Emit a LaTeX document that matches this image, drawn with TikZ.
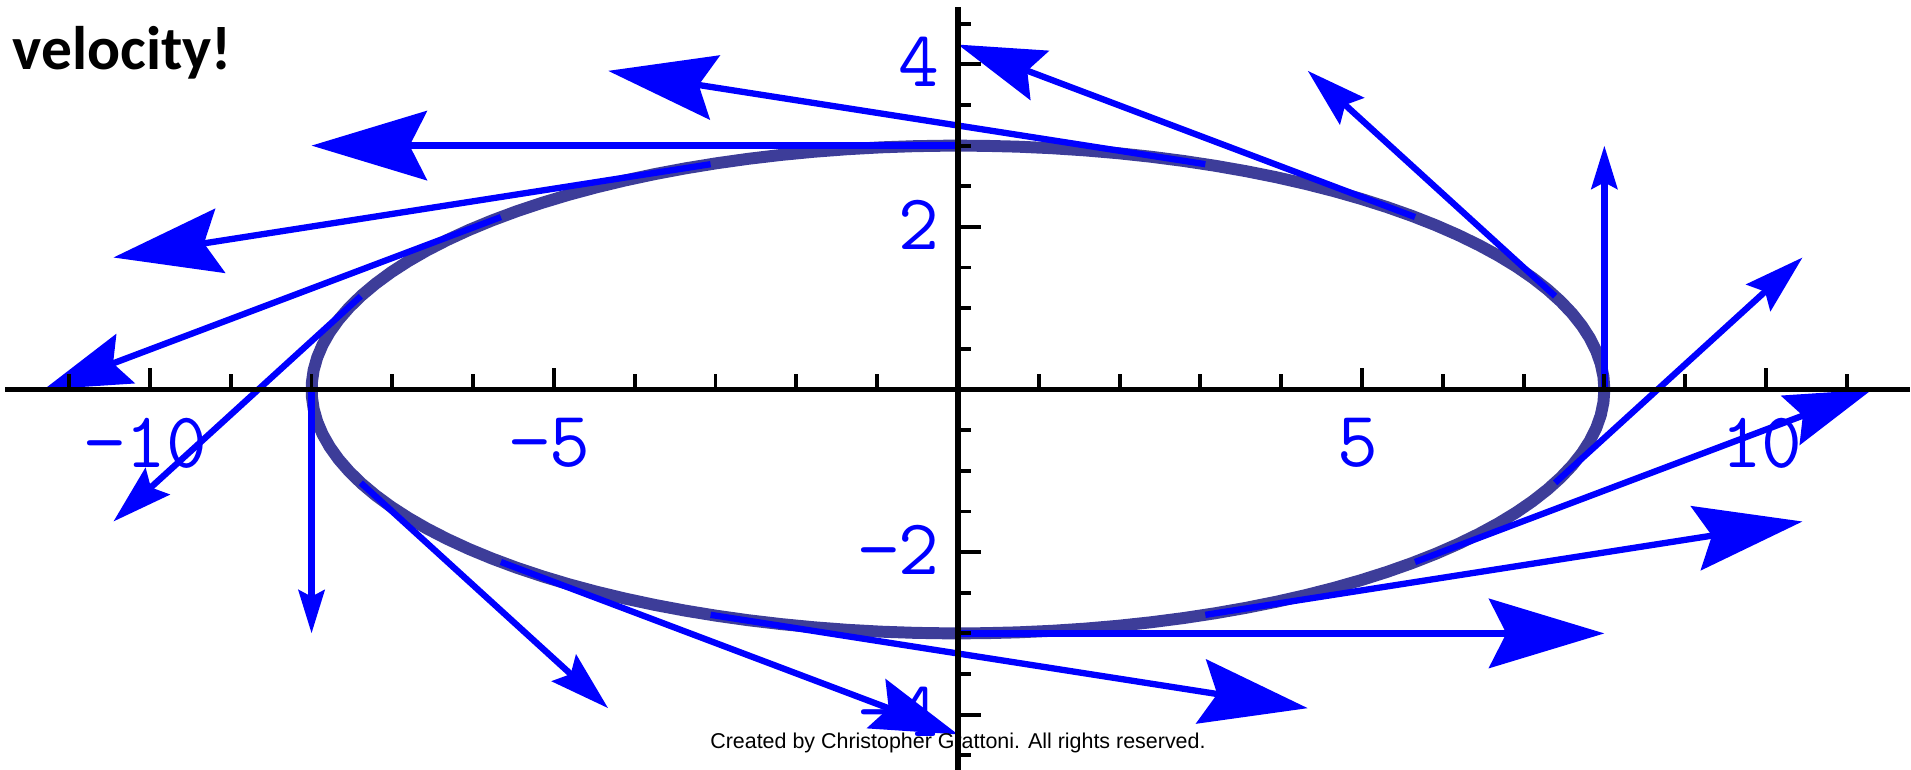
\documentclass[tikz,border=0pt]{standalone}
\usepackage{fontspec}
\setmainfont{Liberation Sans}
\newfontfamily\titlefont{Carlito}
\usetikzlibrary{arrows.meta}
\definecolor{curveclr}{RGB}{61,61,153}
\definecolor{vecclr}{RGB}{0,0,255}
\tikzset{
  axisln/.style={line width=1.6pt, black},
  tickln/.style={line width=1.1pt, black},
  curveln/.style={line width=3.4pt, curveclr, line join=round},
  vec/.style={line width=1.8pt, vecclr},
  ticklbl/.style={text=vecclr, inner sep=0pt, font=\ttfamily\fontsize{22.5}{26}\selectfont},
}

\begin{document}
\begin{tikzpicture}[x=0.808cm, y=0.813cm]
  \useasboundingbox (-11.856,-4.668) rectangle (11.795,4.791);
  % title (second line only)
  \node[anchor=base west, inner sep=0pt, font=\titlefont\bfseries\fontsize{17.5}{20}\selectfont]
    (title) at (-9.46cm,3.20cm) {velocity!};
  % tick labels
  \foreach \i/\lbl in {-10/−10, -5/−5, 5/5, 10/10}
    \node[ticklbl] (xl\i) at (\i-0.05,-0.66) {\lbl};
  \foreach \j/\lbl in {-4/−4, -2/−2, 2/2, 4/4}
    \node[ticklbl, anchor=east] (yl\j) at (-0.22,\j+0.03) {\lbl};
  % ellipse r(t) = (8 cos t, 3 sin t)
  \draw[curveln, domain=0:360, samples=120] plot ({8*cos(\x)},{3*sin(\x)}) -- cycle;
  % velocity vectors r'(t) at t = k pi/8
  \foreach \k in {0,...,15}{
    \pgfmathsetmacro\ang{22.5*\k}
    \pgfmathsetmacro\vx{-8*sin(\ang)}
    \pgfmathsetmacro\vy{3*cos(\ang)}
    \pgfmathsetmacro\hl{0.178*0.81*veclen(\vx,\vy)}
    \pgfmathsetmacro\hw{0.6*\hl}
    \pgfmathsetmacro\hi{0.15*\hl}
    \coordinate (p\k) at ({8*cos(\ang)},{3*sin(\ang)});
    \coordinate (q\k) at ({8*cos(\ang)+\vx},{3*sin(\ang)+\vy});
    \draw[vec, -{Stealth[length=\hl cm, width=\hw cm, inset=\hi cm]}] (p\k) -- (q\k);
  }
  % axes
  \draw[axisln] (-11.79,0) -- (11.78,0);
  \draw[axisln] (0,-4.7) -- (0,4.705);
  \foreach \i in {-11,-9,-8,-7,-6,-4,-3,-2,-1,1,2,3,4,6,7,8,9,11}
    \draw[tickln] (\i,0) -- ++(0,0.16cm);
  \foreach \i in {-10,-5,5,10}
    \draw[tickln] (\i,0) -- ++(0,0.22cm);
  \foreach \j in {-4.5,-3.5,-3,-2.5,-1.5,-1,-0.5,0.5,1,1.5,2.5,3,3.5,4.5}
    \draw[tickln] (0,\j) -- ++(0.135cm,0);
  \foreach \j in {-4,-2,2,4}
    \draw[tickln] (0,\j) -- ++(0.235cm,0);
  % credit line
  \node[anchor=base, inner sep=0pt, font=\fontsize{6.1}{7.3}\selectfont]
    (credit) at (0,-3.59cm) {Created by Christopher Grattoni. All rights reserved.};
\end{tikzpicture}
\end{document}
